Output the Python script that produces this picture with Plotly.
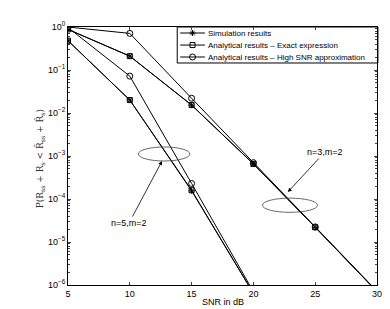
import plotly.graph_objects as go
import math

snr_n3 = [5, 10, 15, 20, 25, 30]
n3_sim = [0.88, 0.21, 0.0152, 6.6e-4, 2.2e-5, 7e-7]
n3_exact = [0.88, 0.21, 0.0154, 6.5e-4, 2.2e-5, 7e-7]
n3_approx = [1.0, 0.71, 0.022, 7.0e-4, 2.25e-5, 7.2e-7]

snr_n5 = [5, 10, 15, 20]
n5_sim = [0.48, 0.02, 1.55e-4, 6.4e-7]
n5_exact = [0.48, 0.02, 1.6e-4, 6.4e-7]
n5_approx = [0.97, 0.072, 2.3e-4, 7e-7]

legend_names = ["Simulation results", "Analytical results \u2013 Exact expression",
                "Analytical results \u2013 High SNR approximation"]
x_ticks = [5, 10, 15, 20, 25, 30]
y_tickvals = [1e-6, 1e-5, 1e-4, 1e-3, 1e-2, 1e-1, 1]
y_ticktext = ["10<sup>\u22126</sup>", "10<sup>\u22125</sup>", "10<sup>\u22124</sup>",
              "10<sup>\u22123</sup>", "10<sup>\u22122</sup>", "10<sup>\u22121</sup>",
              "10<sup>0</sup>"]

symbols = ["asterisk", "square-open", "circle-open"]
sizes = [5, 5, 6]

fig = go.Figure()

def add(x, y, k):
    fig.add_trace(go.Scatter(
        x=x, y=y, mode="lines+markers", name=legend_names[k], showlegend=False,
        line=dict(color="black", width=1),
        marker=dict(symbol=symbols[k], size=sizes[k], color="black",
                    line=dict(color="black", width=1)),
    ))

add(snr_n3, n3_sim, 0)
add(snr_n3, n3_exact, 1)
add(snr_n3, n3_approx, 2)
add(snr_n5, n5_sim, 0)
add(snr_n5, n5_exact, 1)
add(snr_n5, n5_approx, 2)

# hand-drawn legend (compact rows like the reference)
leg_x0, leg_x1 = 0.3535, 1.003
leg_y0, leg_y1 = 0.8605, 1.0
rows = [0.9767, 0.930, 0.8837]
samp_x = [0.363, 0.443]
for k, ry in enumerate(rows):
    fig.add_trace(go.Scatter(
        x=samp_x, y=[ry, ry], xaxis="x2", yaxis="y2", mode="lines",
        line=dict(color="black", width=1), showlegend=False, hoverinfo="skip"))
    fig.add_trace(go.Scatter(
        x=[(samp_x[0] + samp_x[1]) / 2], y=[ry], xaxis="x2", yaxis="y2", mode="markers",
        marker=dict(symbol=symbols[k], size=sizes[k], color="black",
                    line=dict(color="black", width=1)),
        showlegend=False, hoverinfo="skip"))

def ydom(v):
    return (math.log10(v) + 6) / 6

shapes = [
    dict(type="rect", xref="paper", yref="paper", x0=leg_x0, x1=leg_x1, y0=leg_y0, y1=leg_y1,
         line=dict(color="black", width=1), fillcolor="white", layer="below"),
    dict(type="circle", xref="x", yref="y domain", x0=10.69, x1=14.86,
         y0=ydom(10 ** -3.116), y1=ydom(10 ** -2.79),
         line=dict(color="#444", width=0.8)),
    dict(type="circle", xref="x", yref="y domain", x0=20.73, x1=25.19,
         y0=ydom(10 ** -4.31), y1=ydom(10 ** -3.98),
         line=dict(color="#444", width=0.8)),
]

annotations = [
    dict(x=12.61, y=-3.116, xref="x", yref="y", text="n=5,m=2", showarrow=True,
         ax=-33, ay=62, arrowhead=2, arrowsize=1, arrowwidth=0.8, arrowcolor="black",
         font=dict(family="Arial", size=9, color="black")),
    dict(x=22.79, y=-3.837, xref="x", yref="y", text="n=3,m=2", showarrow=True,
         ax=37, ay=-40, arrowhead=2, arrowsize=1, arrowwidth=0.8, arrowcolor="black",
         font=dict(family="Arial", size=9, color="black")),
    dict(x=0.5, y=-0.065, xref="paper", yref="paper", text="SNR in dB", showarrow=False,
         xanchor="center", yanchor="middle", font=dict(family="Arial", size=9, color="black")),
    dict(x=-0.0898, y=0.488, xref="paper", yref="paper",
         text="P(R<sub>ss</sub> + R<sub>s</sub> &lt; R\u0302<sub>ss</sub> + R\u0302<sub>s</sub>)",
         showarrow=False, textangle=-90, xanchor="center", yanchor="middle",
         font=dict(family="DejaVu Serif", size=9, color="#333")),
]
for k, ry in enumerate(rows):
    annotations.append(dict(x=0.446, y=ry, xref="paper", yref="paper", text=legend_names[k],
                            showarrow=False, xanchor="left", yanchor="middle",
                            font=dict(family="Arial", size=8, color="black")))

fig.update_layout(
    width=390, height=309,
    margin=dict(l=68, r=8, t=27, b=24),
    paper_bgcolor="white", plot_bgcolor="white",
    showlegend=False,
    shapes=shapes,
    annotations=annotations,
    xaxis=dict(range=[5, 30], tickvals=x_ticks, ticks="inside", ticklen=3,
               showline=True, linecolor="black", linewidth=1, mirror="ticks",
               showgrid=False, zeroline=False,
               tickfont=dict(family="Arial", size=9, color="black")),
    yaxis=dict(type="log", range=[-6, 0], tickvals=y_tickvals, ticktext=y_ticktext,
               ticks="inside", ticklen=3,
               showline=True, linecolor="black", linewidth=1, mirror="ticks",
               showgrid=False, zeroline=False,
               minor=dict(ticks="inside", ticklen=2, dtick="D1", showgrid=False),
               tickfont=dict(family="Arial", size=9, color="black")),
    xaxis2=dict(overlaying="x", range=[0, 1], visible=False, fixedrange=True),
    yaxis2=dict(overlaying="y", range=[0, 1], visible=False, fixedrange=True),
)

fig.write_html("out.html", config={"displayModeBar": False},
               post_script="document.body.style.margin='0px';document.body.style.overflow='hidden';")
